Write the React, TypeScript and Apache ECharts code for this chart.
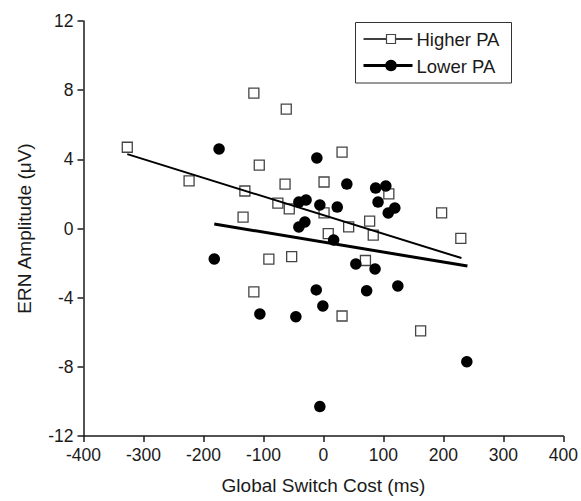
import React, { useEffect, useRef } from "react";
import * as echarts from "echarts";

const higherPA: [number, number][] = [
  [-327, 4.7], [-224, 2.75], [-131, 2.17], [-134, 0.66], [-116, 7.83], [-62, 6.9],
  [-107, 3.67], [-64, 2.57], [-76, 1.47], [-57, 1.13], [31, 4.42], [1, 2.69],
  [1, 0.9], [42, 0.09], [77, 0.43], [109, 2.0], [83, -0.38], [8, -0.3],
  [197, 0.9], [229, -0.57], [70, -1.85], [-91, -1.77], [-53, -1.63], [-116, -3.67],
  [31, -5.06], [162, -5.92],
];

const lowerPA: [number, number][] = [
  [-174, 4.6], [-11, 4.08], [39, 2.57], [87, 2.34], [104, 2.46], [91, 1.53],
  [119, 1.19], [108, 0.9], [-41, 1.53], [-29, 1.65], [-6, 1.36], [23, 1.24],
  [-41, 0.09], [-31, 0.38], [17, -0.66], [-182, -1.76], [54, -2.05], [86, -2.34],
  [-12, -3.55], [72, -3.6], [124, -3.32], [-106, -4.94], [-46, -5.1], [-1, -4.48],
  [-6, -10.3], [239, -7.7],
];

const higherFit: [number, number][] = [[-327, 4.3], [230, -1.71]];
const lowerFit: [number, number][] = [[-182, 0.26], [240, -2.17]];

const seriesNames = ["Higher PA", "Lower PA"];
const xTitle = "Global Switch Cost (ms)";
const yTitle = "ERN Amplitude (\u03bcV)";

const FONT = "'Liberation Sans', Arial, Helvetica, sans-serif";
const INK = "#1a1a1a";

export default function App() {
  const ref = useRef<HTMLDivElement>(null);
  useEffect(() => {
    if (!ref.current) return;
    document.body.style.margin = "0";
    const chart = echarts.init(ref.current, undefined, { renderer: "svg" });
    const lx = 355.5;
    const ly = 22.5;
    chart.setOption({
      animation: false,
      backgroundColor: "#ffffff",
      grid: { left: 83.5, right: 17, top: 21, bottom: 65, containLabel: false },
      xAxis: {
        type: "value",
        min: -400,
        max: 400,
        interval: 100,
        name: xTitle,
        nameLocation: "middle",
        nameGap: 40,
        nameTextStyle: { fontFamily: FONT, fontSize: 19, color: INK },
        axisLine: { show: true, onZero: false, lineStyle: { color: INK, width: 1.5 } },
        axisTick: { show: true, length: 6, lineStyle: { color: INK, width: 1.5 } },
        axisLabel: { fontFamily: FONT, fontSize: 17.5, color: INK, margin: 10 },
        splitLine: { show: false },
      },
      yAxis: {
        type: "value",
        min: -12,
        max: 12,
        interval: 4,
        name: yTitle,
        nameLocation: "middle",
        nameGap: 50,
        nameRotate: 90,
        nameTextStyle: { fontFamily: FONT, fontSize: 19, color: INK },
        axisLine: { show: true, onZero: false, lineStyle: { color: INK, width: 1.5 } },
        axisTick: { show: true, length: 6, lineStyle: { color: INK, width: 1.5 } },
        axisLabel: { fontFamily: FONT, fontSize: 17.5, color: INK, margin: 10 },
        splitLine: { show: false },
      },
      series: [
        {
          name: seriesNames[0],
          type: "scatter",
          data: higherPA,
          symbol: "rect",
          symbolSize: 10,
          itemStyle: { color: "#ffffff", borderColor: "#444444", borderWidth: 1.3, opacity: 1 },
          z: 3,
        },
        {
          name: seriesNames[1],
          type: "scatter",
          data: lowerPA,
          symbol: "circle",
          symbolSize: 11.5,
          itemStyle: { color: "#000000", opacity: 1 },
          z: 4,
        },
        {
          name: seriesNames[0] + " fit",
          type: "line",
          data: higherFit,
          symbol: "none",
          lineStyle: { color: "#000000", width: 2 },
          z: 5,
        },
        {
          name: seriesNames[1] + " fit",
          type: "line",
          data: lowerFit,
          symbol: "none",
          lineStyle: { color: "#000000", width: 3 },
          z: 5,
        },
      ],
      graphic: [
        {
          type: "rect",
          shape: { x: lx, y: ly, width: 156, height: 60.5 },
          style: { fill: "#ffffff", stroke: "#333333", lineWidth: 1 },
          z: 10,
        },
        {
          type: "line",
          shape: { x1: lx + 8, y1: ly + 16.5, x2: lx + 57, y2: ly + 16.5 },
          style: { stroke: "#000000", lineWidth: 1.5 },
          z: 11,
        },
        {
          type: "rect",
          shape: { x: lx + 31, y: ly + 12, width: 9, height: 9 },
          style: { fill: "#ffffff", stroke: "#444444", lineWidth: 1.2 },
          z: 12,
        },
        {
          type: "text",
          x: lx + 61,
          y: ly + 17,
          style: { text: seriesNames[0], font: `18.5px ${FONT}`, fill: INK, verticalAlign: "middle" },
          z: 12,
        },
        {
          type: "line",
          shape: { x1: lx + 8, y1: ly + 43, x2: lx + 57, y2: ly + 43 },
          style: { stroke: "#000000", lineWidth: 3 },
          z: 11,
        },
        {
          type: "circle",
          shape: { cx: lx + 35.5, cy: ly + 43, r: 5.8 },
          style: { fill: "#000000" },
          z: 12,
        },
        {
          type: "text",
          x: lx + 61,
          y: ly + 43.5,
          style: { text: seriesNames[1], font: `18.5px ${FONT}`, fill: INK, verticalAlign: "middle" },
          z: 12,
        },
      ],
    });
    return () => chart.dispose();
  }, []);
  return <div ref={ref} style={{ width: 581, height: 501 }} />;
}
